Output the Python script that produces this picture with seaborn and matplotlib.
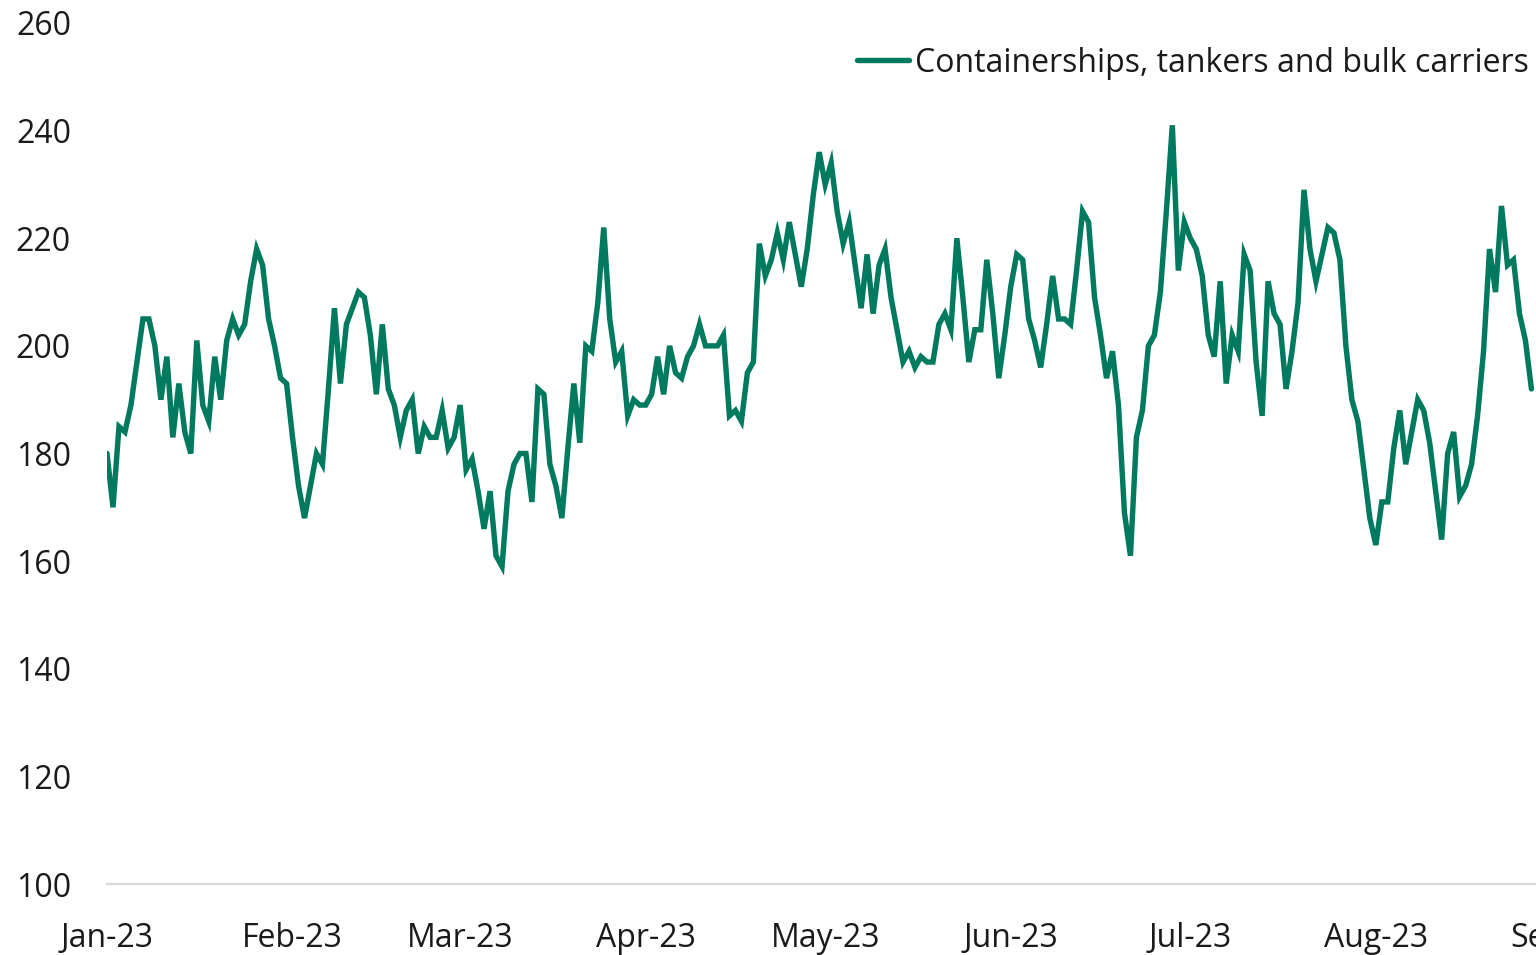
import numpy as np
import pandas as pd
import matplotlib
matplotlib.use("Agg")
import matplotlib.pyplot as plt
import matplotlib.dates as mdates
import seaborn as sns

# ---- data (daily, from 1 Jan 2023) ----
start_date = "2023-01-01"
series_label = "Containerships, tankers and bulk carriers"
crossings = [
    180, 170, 185, 184, 189, 197, 205, 205, 200, 190, 198, 183, 193, 184, 180, 201, 189, 186, 198, 190,
    201, 205, 202, 204, 212, 218, 215, 205, 200, 194, 193, 183, 174, 168, 174, 180, 178, 192, 207, 193,
    204, 207, 210, 209, 202, 191, 204, 192, 189, 183, 188, 190, 180, 185, 183, 183, 188, 181, 183, 189,
    177, 179, 173, 166, 173, 161, 159, 173, 178, 180, 180, 171, 192, 191, 178, 174, 168, 181, 193, 182,
    200, 199, 208, 222, 205, 197, 199, 187, 190, 189, 189, 191, 198, 191, 200, 195, 194, 198, 200, 204,
    200, 200, 200, 202, 187, 188, 186, 195, 197, 219, 213, 216, 221, 216, 223, 217, 211, 218, 228, 236,
    230, 234, 225, 219, 223, 215, 207, 217, 206, 215, 218, 209, 203, 197, 199, 196, 198, 197, 197, 204,
    206, 203, 220, 209, 197, 203, 203, 216, 206, 194, 202, 211, 217, 216, 205, 201, 196, 204, 213, 205,
    205, 204, 214, 225, 223, 209, 202, 194, 199, 189, 169, 161, 183, 188, 200, 202, 210, 225, 241, 214,
    223, 220, 218, 213, 202, 198, 212, 193, 202, 199, 217, 214, 197, 187, 212, 206, 204, 192, 199, 208,
    229, 218, 212, 217, 222, 221, 216, 200, 190, 186, 177, 168, 163, 171, 171, 181, 188, 178, 184, 190,
    188, 182, 173, 164, 180, 184, 172, 174, 178, 187, 199, 218, 210, 226, 215, 216, 206, 201, 192,
]
y_ticks = [100, 120, 140, 160, 180, 200, 220, 240, 260]
x_start = "2023-01-01"
x_end = "2023-10-01"

dates = pd.date_range(start_date, periods=len(crossings), freq="D")
df = pd.DataFrame({"date": dates, "value": crossings})

# ---- figure ----
W, H, DPI = 1536, 955, 100
sns.set_style("white")
plt.rcParams["font.family"] = ["Open Sans", "DejaVu Sans"]

fig = plt.figure(figsize=(W / DPI, H / DPI), dpi=DPI)
px_per_day = 5.985
n_days = (pd.Timestamp(x_end) - pd.Timestamp(x_start)).days
left_px, bottom_px, top_px = 107, 71, 932
ax = fig.add_axes([left_px / W, bottom_px / H, n_days * px_per_day / W, (top_px - bottom_px) / H])

color = "#007A5E"
sns.lineplot(data=df, x="date", y="value", ax=ax, color=color, linewidth=3.9,
             label=series_label, solid_joinstyle="miter")

ax.set_xlim(pd.Timestamp(x_start), pd.Timestamp(x_end))
ax.set_ylim(y_ticks[0], y_ticks[-1])
ax.set_yticks(y_ticks)
ax.set_xlabel("")
ax.set_ylabel("")

ax.xaxis.set_major_locator(mdates.MonthLocator())
ax.xaxis.set_major_formatter(mdates.DateFormatter("%b-%y"))

for s in ["left", "top", "right"]:
    ax.spines[s].set_visible(False)
ax.spines["bottom"].set_color("#D9D9D9")
ax.spines["bottom"].set_linewidth(1.6)
ax.grid(False)

fs = 23
ax.tick_params(axis="x", direction="out", length=7.2, width=0.8, color="#D9D9D9",
               pad=20, labelsize=fs, labelcolor="#1a1a1a")
ax.tick_params(axis="y", length=0, pad=26, labelsize=fs, labelcolor="#1a1a1a")

handles, labels = ax.get_legend_handles_labels()
ax.get_legend().remove()
fs_px = fs * DPI / 72
fig.legend(handles, labels, loc="center left", bbox_to_anchor=(857 / W, 1 - 63 / H),
           frameon=False, fontsize=fs, borderpad=0, borderaxespad=0,
           handlelength=52 / fs_px, handletextpad=6 / fs_px, labelcolor="#1a1a1a")

fig.savefig("out.png", dpi=DPI)
